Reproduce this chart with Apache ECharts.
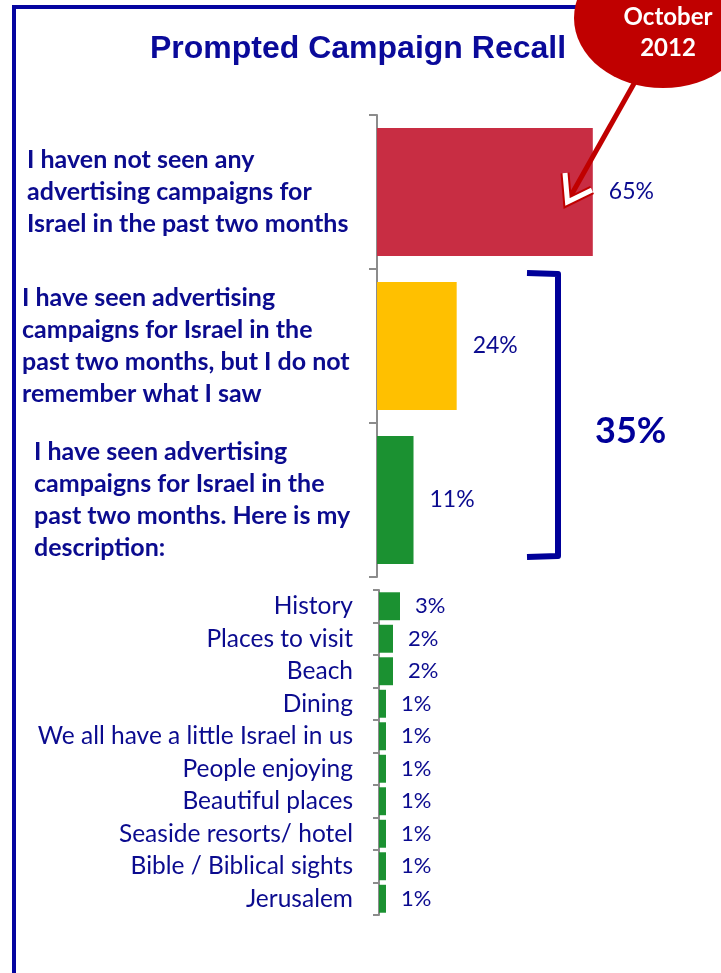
<!DOCTYPE html>
<html>
<head>
<meta charset="utf-8">
<script src="https://cdn.jsdelivr.net/npm/echarts@6/dist/echarts.min.js"></script>
<style>
  html, body { margin: 0; padding: 0; background: #ffffff; }
  #chart { width: 721px; height: 973px; }
</style>
</head>
<body>
<div id="chart"></div>
<script>
// Main recall question: answer texts and shares (%)
const recallCategories = [
  'I haven not seen any\nadvertising campaigns for\nIsrael in the past two months',
  'I have seen advertising\ncampaigns for Israel in the\npast two months, but I do not\nremember what I saw',
  'I have seen advertising\ncampaigns for Israel in the\npast two months. Here is my\ndescription:'
];
const recallValues = [65, 24, 11];

// Descriptions given by those who recalled a campaign (%)
const descCategories = [
  'History', 'Places to visit', 'Beach', 'Dining', 'We all have a little Israel in us',
  'People enjoying', 'Beautiful places', 'Seaside resorts/ hotel', 'Bible / Biblical sights', 'Jerusalem'
];
const descValues = [3, 2, 2, 1, 1, 1, 1, 1, 1, 1];

const titleText = 'Prompted Campaign Recall';
const totalSeenText = '35%';
const badgeLines = ['October', '2012'];

const NAVY = '#0b0b8f';
const FRAME = '#0505a0';
const AXIS_GREY = '#8c8c8c';
const barColors = ['#c82d43', '#ffc000', '#1b9131'];
const GREEN = '#1b9131';

// Width of the left-aligned text block of each main answer
const blockWidths = [325, 330, 318];
const rich = {};
blockWidths.forEach(function (w, i) {
  rich['b' + i] = {
    width: w, align: 'left', fontFamily: 'Lato', fontWeight: 'bold',
    fontSize: 25, lineHeight: 32, color: NAVY
  };
});

const chart = echarts.init(document.getElementById('chart'), null, { renderer: 'canvas' });

const option = {
  backgroundColor: '#ffffff',
  animation: false,
  title: {
    text: titleText,
    left: 353, top: 28, textAlign: 'center',
    textStyle: { fontFamily: 'Liberation Sans', fontWeight: 'bold', fontSize: 32, color: '#0a0a9a' }
  },
  grid: [
    { left: 377, top: 115, width: 332, height: 462 },
    { left: 379, top: 590, width: 70, height: 325 }
  ],
  xAxis: [
    { gridIndex: 0, type: 'value', min: 0, max: 100, show: false },
    { gridIndex: 1, type: 'value', min: 0, max: 10, show: false }
  ],
  yAxis: [
    {
      gridIndex: 0, type: 'category', inverse: true, data: recallCategories,
      axisLine: { show: true, lineStyle: { color: AXIS_GREY, width: 2 } },
      axisTick: { show: true, length: 8, lineStyle: { color: AXIS_GREY, width: 2 } },
      axisLabel: {
        interval: 0, margin: 25, align: 'right',
        formatter: function (v, i) {
          return v.split('\n').map(function (l) { return '{b' + i + '|' + l + '}'; }).join('\n');
        },
        rich: rich
      },
      splitLine: { show: false }
    },
    {
      gridIndex: 1, type: 'category', inverse: true, data: descCategories,
      axisLine: { show: true, lineStyle: { color: AXIS_GREY, width: 2 } },
      axisTick: { show: true, length: 6, lineStyle: { color: AXIS_GREY, width: 2 } },
      axisLabel: {
        interval: 0, margin: 26, fontFamily: 'Lato', fontSize: 24.5, color: NAVY
      },
      splitLine: { show: false }
    }
  ],
  series: [
    {
      type: 'bar', xAxisIndex: 0, yAxisIndex: 0,
      data: recallValues.map(function (v, i) { return { value: v, itemStyle: { color: barColors[i] } }; }),
      barCategoryGap: '17%',
      label: {
        show: true, position: 'right', distance: 16, formatter: '{c}%',
        fontFamily: 'Lato', fontSize: 23, color: NAVY
      }
    },
    {
      type: 'bar', xAxisIndex: 1, yAxisIndex: 1,
      data: descValues,
      itemStyle: { color: GREEN },
      barCategoryGap: '14%',
      label: {
        show: true, position: 'right', distance: 15, formatter: '{c}%',
        fontFamily: 'Lato', fontSize: 22, color: NAVY
      }
    }
  ],
  graphic: [
    // frame on the left and top
    {
      type: 'polyline', z: 50,
      shape: { points: [[14, 990], [14, 7], [740, 7]] },
      style: { stroke: FRAME, lineWidth: 4, fill: null }
    },
    // bracket grouping everyone who recalled a campaign
    {
      type: 'polyline', z: 50,
      shape: { points: [[527, 273], [558, 274], [558, 556], [527, 557]] },
      style: { stroke: '#000099', lineWidth: 6, fill: null, lineJoin: 'round' }
    },
    {
      type: 'text', z: 50, left: 595, top: 413,
      style: { text: totalSeenText, fontFamily: 'Lato', fontWeight: 'bold', fontSize: 36, fill: '#000099' }
    },
    // date badge with pointer arrow
    {
      type: 'line', z: 60,
      shape: { x1: 636, y1: 80, x2: 569, y2: 199 },
      style: { stroke: '#c00000', lineWidth: 5 }
    },
    {
      type: 'polyline', z: 61,
      shape: { points: [[565, 173], [567.5, 202], [592, 190]] },
      style: { stroke: '#c00000', lineWidth: 9, fill: null, lineJoin: 'miter' }
    },
    {
      type: 'polyline', z: 62,
      shape: { points: [[565, 173], [567.5, 202], [592, 190]] },
      style: { stroke: '#ffffff', lineWidth: 5, fill: null, lineJoin: 'miter' }
    },
    {
      type: 'circle', z: 70,
      x: 663, y: 18, scaleX: 89 / 70, scaleY: 1,
      shape: { cx: 0, cy: 0, r: 70 },
      style: { fill: '#c00000' }
    },
    {
      type: 'text', z: 71, x: 668, y: 33,
      style: {
        text: badgeLines.join('\n'), align: 'center', verticalAlign: 'middle',
        fontFamily: 'Lato', fontWeight: 'bold', fontSize: 24, lineHeight: 31, fill: '#ffffff'
      }
    }
  ]
};

chart.setOption(option);
</script>
</body>
</html>
